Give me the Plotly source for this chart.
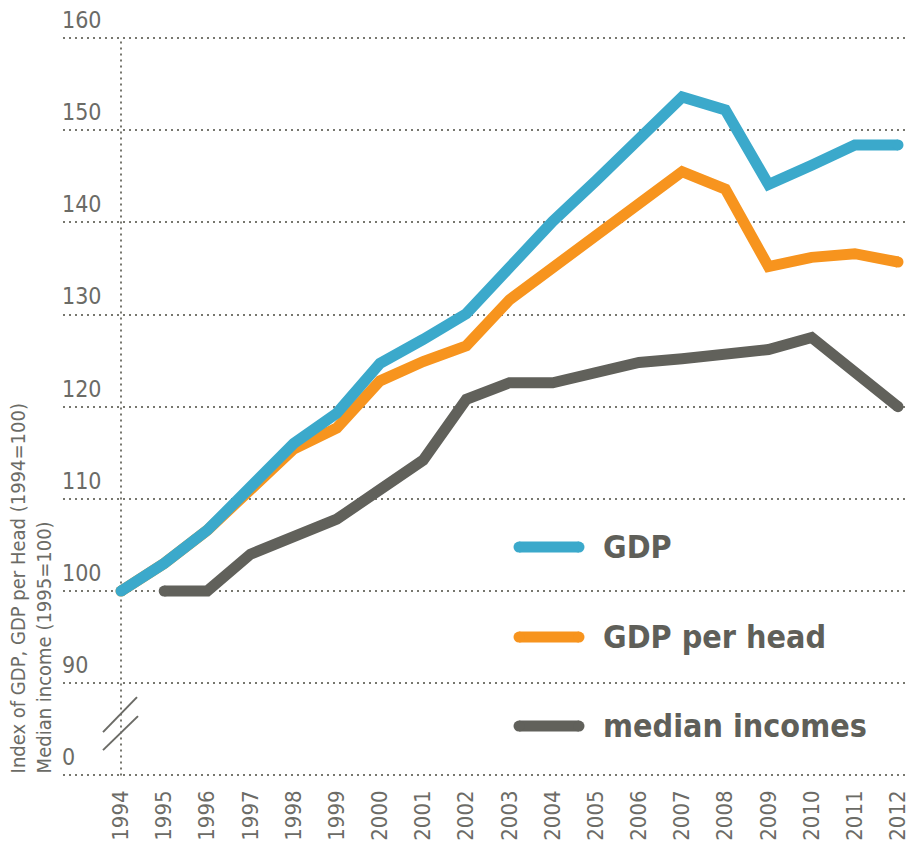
import plotly.graph_objects as go

years = list(range(1994, 2013))
gdp = [100, 103.0, 106.6, 111.2, 116.0, 119.3, 124.7, 127.3, 130.1, 135.1, 140.1,
       144.5, 149.0, 153.6, 152.2, 144.1, 146.2, 148.4, 148.4]
gdp_head = [100, 103.0, 106.6, 110.9, 115.4, 117.7, 122.8, 124.9, 126.6, 131.6, 135.1,
            138.6, 142.2, 145.5, 143.6, 135.2, 136.2, 136.6, 135.7]
med_years = list(range(1995, 2013))
median = [100, 100, 104.0, 105.9, 107.8, 111.0, 114.2, 120.8, 122.6, 122.6,
          123.7, 124.8, 125.2, 125.7, 126.2, 127.5, 123.7, 120.0]

ytick_vals = [80, 90, 100, 110, 120, 130, 140, 150, 160]
ytick_text = ["0", "90", "100", "110", "120", "130", "140", "150", "160"]
legend_names = ["GDP", "GDP per head", "median incomes"]

BLUE = "#3ba9cb"
ORANGE = "#f7941e"
DARK = "#61615b"
TXT = "#6b6b66"
GRID = "#77776f"
FONT = "Liberation Sans Narrow, DejaVu Sans Condensed, Arial Narrow, sans-serif"

px_per_year = 777 / 18
px_per_unit = (775 - 38) / 80
YMIN = 79.5
W, H = 909, 848
L, R, T = 63, 0, 12
B = round(848 - (775 + (80 - YMIN) * px_per_unit))
x0 = 1994 - (121 - 63) / px_per_year
x1 = 2012 + (909 - 898) / px_per_year
ytop = 160 + (38 - T) / px_per_unit


def caps(n, w):
    return [w] + [0] * (n - 2) + [w]


def xpix(px):
    return 1994 + (px - 121) / px_per_year


def ypix(py):
    return 100 - (py - 591) / px_per_unit


fig = go.Figure()
for xs, ys, col in [(med_years, median, DARK), (years, gdp_head, ORANGE), (years, gdp, BLUE)]:
    fig.add_trace(go.Scatter(
        x=xs, y=ys, mode="lines+markers", cliponaxis=False,
        line=dict(color=col, width=11),
        marker=dict(size=caps(len(xs), 11), color=col, opacity=1, line=dict(width=0)),
        showlegend=False, hoverinfo="skip"))

# axis line at 1994 (dotted)
fig.add_shape(type="line", xref="x", yref="y", x0=1994, x1=1994, y0=80, y1=160,
              line=dict(color=GRID, width=2, dash="2px,4px"), layer="below")

# axis-break marks
for pa, pb in [((103, 732), (137, 697)), ((103, 750), (138, 716))]:
    fig.add_shape(type="line", xref="x", yref="y",
                  x0=xpix(pa[0]), x1=xpix(pb[0]), y0=ypix(pa[1]), y1=ypix(pb[1]),
                  line=dict(color="#6b6b66", width=2))

# legend (custom)
leg_y = [ypix(547), ypix(637), ypix(726)]
leg_cols = [BLUE, ORANGE, DARK]
for name, yy, col in zip(legend_names, leg_y, leg_cols):
    fig.add_trace(go.Scatter(
        x=[xpix(519), xpix(579)], y=[yy, yy], mode="lines+markers",
        line=dict(color=col, width=11),
        marker=dict(size=11, color=col, opacity=1, line=dict(width=0)),
        showlegend=False, hoverinfo="skip"))
    fig.add_annotation(x=xpix(601), y=yy, xref="x", yref="y",
                       text="<b>" + name + "</b>", showarrow=False, xanchor="left",
                       yanchor="middle", font=dict(family=FONT, size=32, color="#5f5f59"))

# y axis title
fig.add_annotation(xref="paper", yref="paper", x=-(L - 31) / (W - L - R),
                   y=(80 - YMIN) / (ytop - YMIN),
                   xanchor="center", yanchor="bottom", textangle=-90, align="left",
                   text="Index of GDP, GDP per Head (1994=100)<br>Median income (1995=100)",
                   showarrow=False, font=dict(family=FONT, size=20, color=TXT))

fig.update_layout(
    width=W, height=H, margin=dict(l=L, r=R, t=T, b=B, pad=0),
    paper_bgcolor="white", plot_bgcolor="white",
    font=dict(family=FONT, color=TXT),
    xaxis=dict(range=[x0, x1], tickvals=years, ticktext=[str(y) for y in years],
               tickangle=-90, tickfont=dict(size=22, color=TXT), showgrid=False,
               zeroline=False, showline=False, ticks="", ticklabelstandoff=10 + (B - 73),
               ticklabeloverflow="allow"),
    yaxis=dict(range=[YMIN, ytop], tickvals=ytick_vals, ticktext=ytick_text,
               tickfont=dict(size=23, color=TXT), showgrid=True, gridcolor=GRID,
               griddash="2px,4px", gridwidth=2, zeroline=False, showline=False, ticks="",
               ticklabelposition="inside top", ticklabelstandoff=-4, ticklabelshift=-2,
               ticklabeloverflow="allow"),
)

fig.write_html("out.html", config={"displayModeBar": False},
               post_script="document.body.style.margin='0';document.body.style.overflow='hidden';")
